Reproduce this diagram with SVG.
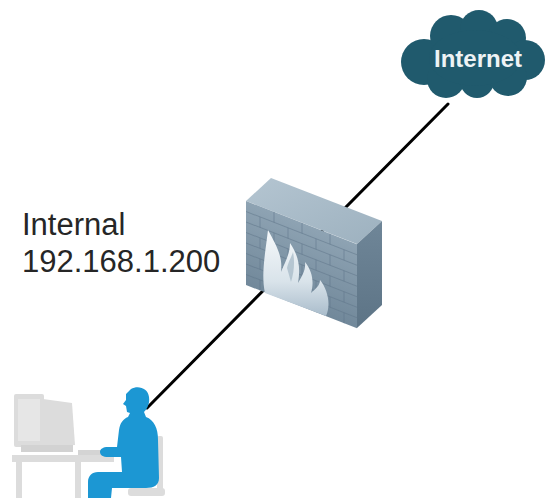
<svg xmlns="http://www.w3.org/2000/svg" width="548" height="498" viewBox="0 0 548 498">
  <defs>
    <linearGradient id="wallFront" x1="0" y1="0" x2="0" y2="1">
      <stop offset="0" stop-color="#8ea3b3"/>
      <stop offset="1" stop-color="#71889a"/>
    </linearGradient>
    <linearGradient id="wallSide" x1="0" y1="0" x2="0" y2="1">
      <stop offset="0" stop-color="#6f8698"/>
      <stop offset="1" stop-color="#5d7486"/>
    </linearGradient>
    <linearGradient id="wallTop" x1="0" y1="0" x2="1" y2="1">
      <stop offset="0" stop-color="#b4c5d1"/>
      <stop offset="1" stop-color="#9db1bf"/>
    </linearGradient>
    <linearGradient id="flame" x1="0" y1="0" x2="0" y2="1">
      <stop offset="0" stop-color="#f6f9fb"/>
      <stop offset="0.6" stop-color="#d9e3ea"/>
      <stop offset="1" stop-color="#a9bccb"/>
    </linearGradient>
  </defs>
  <style>
    .link { stroke: #000; stroke-width: 3; stroke-linecap: round; fill: none; }
    .cloud { fill: #205a6d; }
    .mortar { stroke: #61778a; stroke-width: 1; fill: none; opacity: 0.55; }
    .person { fill: #1c97d3; }
    .furniture { fill: #dcdcdc; }
    .label { font-family: "Liberation Sans", Arial, sans-serif; font-size: 31px; fill: #262626; }
    .cloud-label { font-family: "Liberation Sans", Arial, sans-serif; font-size: 24px; font-weight: bold; fill: #eef3f5; }
  </style>

  <!-- connector: workstation - firewall - internet -->
  <g id="connectors">
    <line class="link" x1="448" y1="104" x2="147" y2="408"/>
  </g>

  <!-- internet cloud -->
  <g id="node-internet">
    <g class="cloud">
      <circle cx="424" cy="62" r="23"/>
      <circle cx="451" cy="36" r="21"/>
      <circle cx="479" cy="29" r="19"/>
      <circle cx="507" cy="38" r="19"/>
      <circle cx="525" cy="60" r="20"/>
      <circle cx="446" cy="79" r="19"/>
      <circle cx="477" cy="81" r="17"/>
      <circle cx="508" cy="77" r="19"/>
      <ellipse cx="475" cy="58" rx="46" ry="28"/>
    </g>
    <text class="cloud-label" x="478" y="67" text-anchor="middle">Internet</text>
  </g>

  <!-- firewall -->
  <g id="node-firewall">
    <polygon points="246,201 271,178 382,221 357,244" fill="url(#wallTop)"/>
    <polygon points="357,244 382,221 382,305 357,328" fill="url(#wallSide)"/>
    <g transform="translate(246,201) skewY(21.3)">
      <rect x="0" y="0" width="111" height="84" fill="url(#wallFront)"/>
      <path class="mortar" d="M0,10.5 H111 M0,21 H111 M0,31.5 H111 M0,42 H111 M0,52.5 H111 M0,63 H111 M0,73.5 H111"/>
      <path class="mortar" d="M28,0 V10.5 M56,0 V10.5 M84,0 V10.5
        M14,10.5 V21 M42,10.5 V21 M70,10.5 V21 M98,10.5 V21
        M28,21 V31.5 M56,21 V31.5 M84,21 V31.5
        M14,31.5 V42 M42,31.5 V42 M70,31.5 V42 M98,31.5 V42
        M28,42 V52.5 M56,42 V52.5 M84,42 V52.5
        M14,52.5 V63 M42,52.5 V63 M70,52.5 V63 M98,52.5 V63
        M28,63 V73.5 M56,63 V73.5 M84,63 V73.5
        M14,73.5 V84 M42,73.5 V84 M70,73.5 V84 M98,73.5 V84"/>
    </g>
    <path fill="url(#flame)" d="M265,293 C261,275 265,255 268,230 C276,245 283,256 281,272 C285,262 290,254 290,243 C298,255 301,266 298,283 C302,276 306,270 305,262 C313,272 314,283 311,293 C315,289 320,286 320,280 C328,290 331,305 326,316 Z"/>
    <path fill="#a3b6c5" opacity="0.7" d="M287,268 C289,260 292,256 293,252 C295,262 294,272 291,282 Z"/>
  </g>

  <!-- internal workstation -->
  <g id="node-workstation">
    <!-- desk, monitor, keyboard, chair -->
    <g class="furniture">
      <rect x="157" y="436" width="6" height="56" rx="2"/>
      <rect x="128" y="488" width="37" height="8" rx="3"/>
      <polygon points="43,399 72,403 75,445 43,447"/>
      <rect x="14" y="394" width="30" height="53" rx="2"/>
      <rect x="21" y="445" width="52" height="7" fill="#d2d2d2"/>
      <rect x="78" y="450" width="32" height="5" fill="#d4d4d4"/>
      <rect x="12" y="455" width="102" height="7"/>
      <rect x="16" y="462" width="6" height="36"/>
      <rect x="75" y="462" width="6" height="36"/>
    </g>
    <rect x="18" y="399" width="22" height="42" fill="#e6e6e6"/>
    <path class="person" d="M131,389 C138,385 148,388 149,397 C150,404 147,409 144,412 L146,417 C154,420 158,428 158,440 L159,478 C159,485 154,488 146,488 L112,488 L111,498 L88,498 L88,482 C88,476 92,472 98,472 L122,472 L121,457 L108,457 C103,457 100,455 100,452 C100,449 103,447 108,447 L117,447 L119,430 C120,423 123,419 128,417 L130,413 L127,412 L126,406 L123,404 L126,400 L126,394 Z"/>
    <text class="label" x="22" y="235">Internal</text>
    <text class="label" x="22" y="272">192.168.1.200</text>
  </g>
</svg>
